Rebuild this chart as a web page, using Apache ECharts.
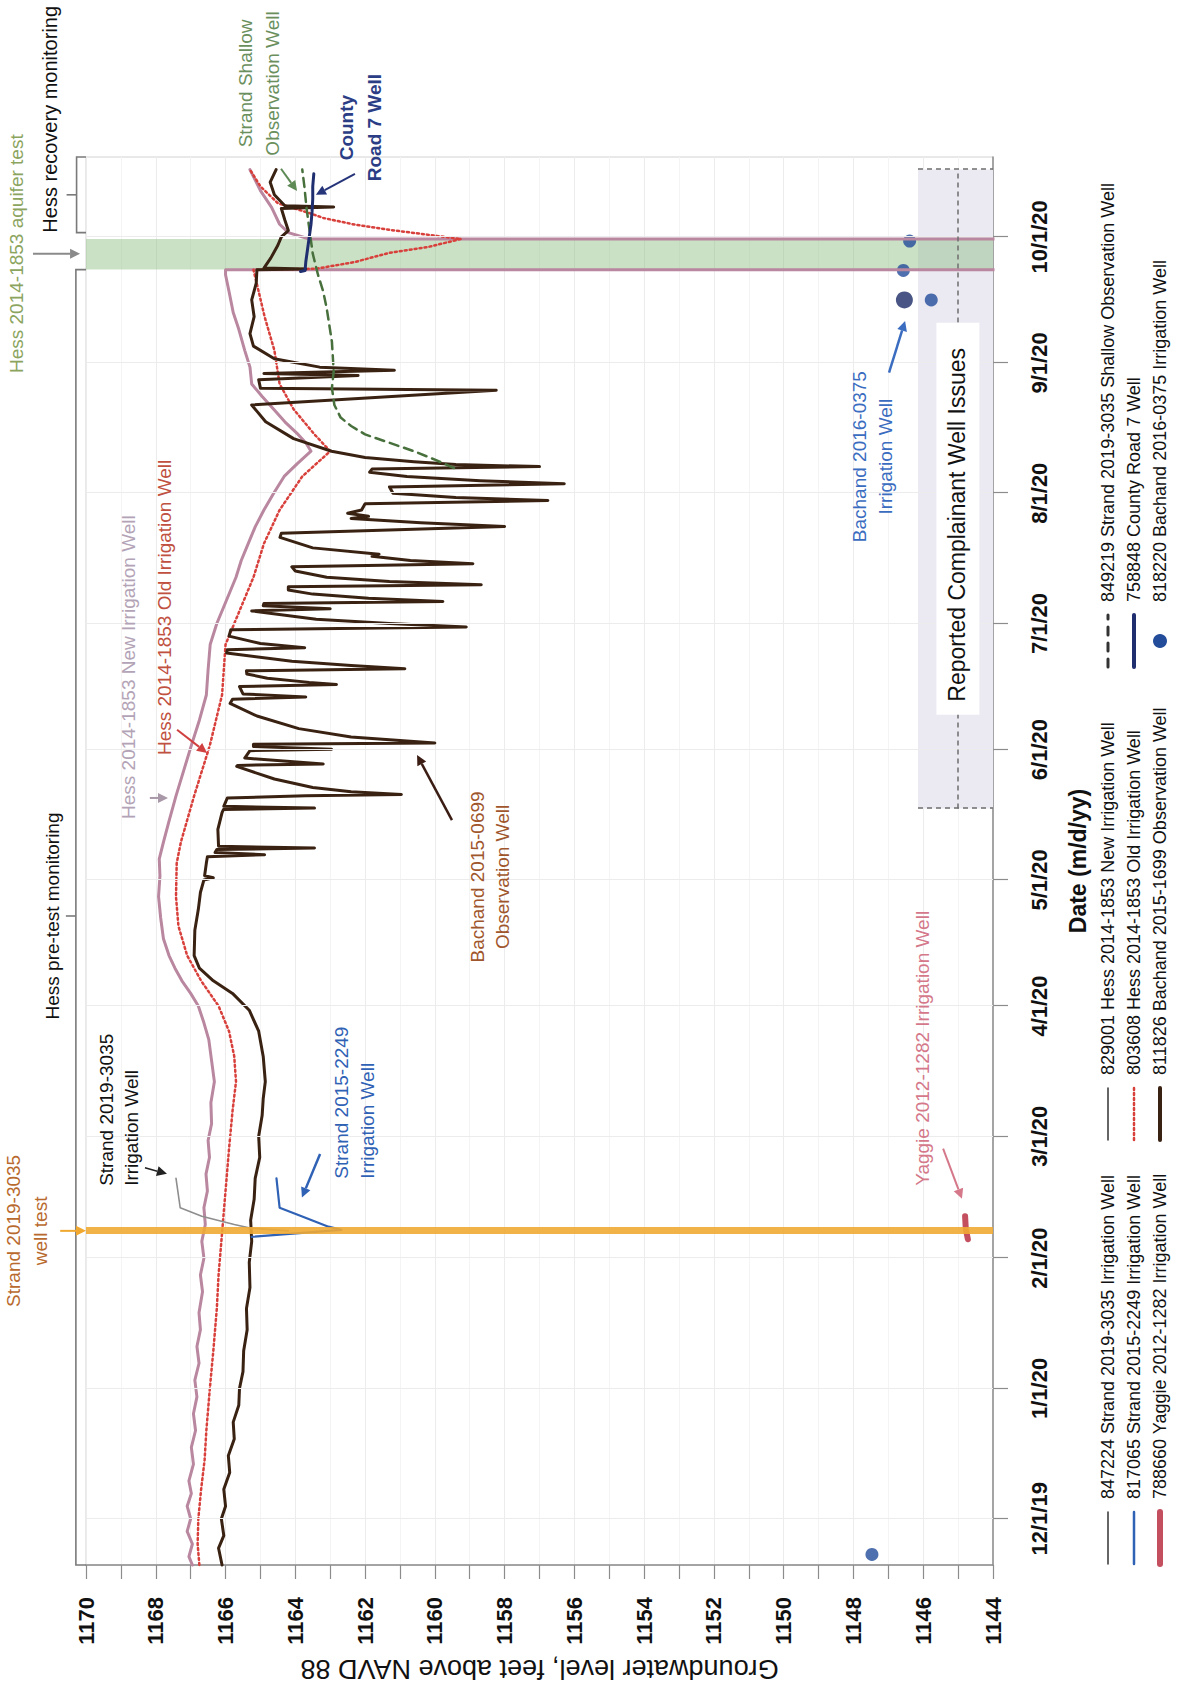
<!DOCTYPE html>
<html>
<head>
<meta charset="utf-8">
<title>Groundwater levels, Hess 2014-1853 aquifer test area</title>
<script src="https://cdn.jsdelivr.net/npm/echarts@6/dist/echarts.min.js"></script>
<style>
  html, body { margin: 0; padding: 0; width: 1178px; height: 1690px; overflow: hidden; background: #fff; }
  /* the chart is laid out landscape and turned a quarter turn counter-clockwise onto the portrait page */
  #chart { position: absolute; left: 0; top: 0; width: 1690px; height: 1178px;
           transform-origin: 0 0; transform: translateY(1690px) rotate(-90deg); }
</style>
</head>
<body>
<div id="chart"></div>
<script>
// ---------------- data (date, groundwater level in ft NAVD 88) ----------------
const monthTicks = ['2019-12-01', '2020-01-01', '2020-02-01', '2020-03-01', '2020-04-01', '2020-05-01',
  '2020-06-01', '2020-07-01', '2020-08-01', '2020-09-01', '2020-10-01'];

const strand3035Irrigation = [
  ['2020-02-07 12:00', 1164.2], ['2020-02-08 04:00', 1165.3], ['2020-02-09', 1165.75],
  ['2020-02-11', 1166.68], ['2020-02-13', 1167.3], ['2020-02-20', 1167.42]
];

const strand2249Irrigation = [
  ['2020-02-06 02:00', 1165.25], ['2020-02-07 18:00', 1162.68], ['2020-02-08 12:00', 1163.05],
  ['2020-02-11', 1163.82], ['2020-02-13', 1164.45], ['2020-02-20', 1164.54]
];

const yaggieIrrigation = [
  ['2020-02-05 12:00', 1144.72], ['2020-02-08', 1144.78], ['2020-02-11', 1144.8]
];

const hessNewIrrigation = [
  ['2019-11-20', 1166.95], ['2019-11-22', 1167.05], ['2019-11-25', 1166.95], ['2019-11-28', 1167.1],
  ['2019-12-01', 1167.0], ['2019-12-04', 1167.1], ['2019-12-07', 1166.98], ['2019-12-10', 1167.05],
  ['2019-12-14', 1166.92], ['2019-12-18', 1166.98], ['2019-12-22', 1166.86], ['2019-12-26', 1166.92],
  ['2019-12-30', 1166.82], ['2020-01-03', 1166.88], ['2020-01-07', 1166.76], ['2020-01-11', 1166.82],
  ['2020-01-15', 1166.72], ['2020-01-19', 1166.76], ['2020-01-24', 1166.66], ['2020-01-28', 1166.72],
  ['2020-02-01', 1166.62], ['2020-02-05', 1166.68], ['2020-02-09', 1166.58], ['2020-02-13', 1166.62],
  ['2020-02-17', 1166.52], ['2020-02-21', 1166.56], ['2020-02-25', 1166.46], ['2020-02-29', 1166.5],
  ['2020-03-04', 1166.4], ['2020-03-09', 1166.42], ['2020-03-14', 1166.32], ['2020-03-19', 1166.4],
  ['2020-03-24', 1166.48], ['2020-03-28', 1166.62], ['2020-04-01', 1166.78], ['2020-04-04', 1167.0],
  ['2020-04-07', 1167.25], ['2020-04-10', 1167.45], ['2020-04-13', 1167.62], ['2020-04-17', 1167.78],
  ['2020-04-22', 1167.86], ['2020-04-27', 1167.92], ['2020-05-02', 1167.88], ['2020-05-06', 1167.9],
  ['2020-05-10', 1167.78], ['2020-05-15', 1167.62], ['2020-05-21', 1167.42], ['2020-05-27', 1167.2],
  ['2020-06-02', 1166.98], ['2020-06-08', 1166.75], ['2020-06-14', 1166.55], ['2020-06-20', 1166.5],
  ['2020-06-26', 1166.44], ['2020-07-01', 1166.25], ['2020-07-06', 1166.0], ['2020-07-12', 1165.7],
  ['2020-07-16', 1165.55], ['2020-07-20', 1165.35], ['2020-07-24', 1165.15], ['2020-07-28', 1164.9],
  ['2020-08-01', 1164.62], ['2020-08-05', 1164.32], ['2020-08-08', 1163.95], ['2020-08-11', 1163.55],
  ['2020-08-13', 1163.7], ['2020-08-15', 1163.92], ['2020-08-18', 1164.3], ['2020-08-21', 1164.62],
  ['2020-08-24', 1164.95], ['2020-08-27', 1165.25], ['2020-08-31', 1165.3], ['2020-09-04', 1165.45],
  ['2020-09-09', 1165.62], ['2020-09-13', 1165.78], ['2020-09-18', 1165.9], ['2020-09-22', 1166.0],
  ['2020-09-23 04:00', 1166.0], ['2020-09-23 05:00', 1140.0], ['2020-09-30 11:00', 1140.0],
  ['2020-09-30 12:00', 1163.6], ['2020-10-02', 1164.2], ['2020-10-04', 1164.45], ['2020-10-08', 1164.68],
  ['2020-10-12', 1165.0], ['2020-10-17', 1165.3]
];

const hessOldIrrigation = [
  ['2019-11-20', 1166.75], ['2019-11-25', 1166.8], ['2019-12-01', 1166.78], ['2019-12-08', 1166.7],
  ['2019-12-15', 1166.6], ['2019-12-22', 1166.55], ['2020-01-01', 1166.45], ['2020-01-10', 1166.35],
  ['2020-01-20', 1166.25], ['2020-01-28', 1166.2], ['2020-02-07', 1166.1], ['2020-02-17', 1166.0],
  ['2020-02-27', 1165.9], ['2020-03-07', 1165.8], ['2020-03-14', 1165.7], ['2020-03-20', 1165.75],
  ['2020-03-26', 1165.9], ['2020-04-01', 1166.2], ['2020-04-07', 1166.7], ['2020-04-13', 1167.1],
  ['2020-04-20', 1167.35], ['2020-04-27', 1167.42], ['2020-05-05', 1167.4], ['2020-05-10', 1167.28],
  ['2020-05-21', 1166.9], ['2020-06-02', 1166.45], ['2020-06-14', 1166.1], ['2020-06-20', 1166.05],
  ['2020-06-26', 1166.0], ['2020-07-04', 1165.6], ['2020-07-12', 1165.2], ['2020-07-20', 1164.9],
  ['2020-07-28', 1164.45], ['2020-08-05', 1163.8], ['2020-08-11', 1163.0], ['2020-08-15', 1163.45],
  ['2020-08-21', 1164.05], ['2020-08-27', 1164.45], ['2020-09-04', 1164.6], ['2020-09-12', 1164.88],
  ['2020-09-18', 1165.05], ['2020-09-23 04:00', 1165.2], ['2020-09-23 10:00', 1163.4],
  ['2020-09-25', 1162.3], ['2020-09-27 05:00', 1161.3], ['2020-09-28 14:00', 1160.2],
  ['2020-09-30 12:00', 1159.25], ['2020-10-01 12:00', 1160.2], ['2020-10-02 16:00', 1161.3],
  ['2020-10-03 22:00', 1162.3], ['2020-10-05 12:00', 1163.2], ['2020-10-06 16:00', 1163.6],
  ['2020-10-09', 1164.5], ['2020-10-13', 1165.0], ['2020-10-17', 1165.3]
];

const bachand1699Observation = [
  ['2019-11-20', 1166.1], ['2019-11-24', 1166.2], ['2019-11-27', 1166.05], ['2019-12-01', 1166.12],
  ['2019-12-04', 1166.0], ['2019-12-08', 1166.05], ['2019-12-12', 1165.88], ['2019-12-16', 1165.92],
  ['2019-12-20', 1165.75], ['2019-12-24', 1165.78], ['2019-12-28', 1165.62], ['2020-01-01', 1165.6],
  ['2020-01-05', 1165.5], ['2020-01-10', 1165.48], ['2020-01-15', 1165.38], ['2020-01-20', 1165.4],
  ['2020-01-25', 1165.3], ['2020-01-31', 1165.32], ['2020-02-05', 1165.25], ['2020-02-10', 1165.28],
  ['2020-02-15', 1165.18], ['2020-02-20', 1165.15], ['2020-02-25', 1165.02], ['2020-03-01', 1165.05],
  ['2020-03-06', 1164.95], ['2020-03-10', 1164.92], ['2020-03-14', 1164.86], ['2020-03-20', 1164.92],
  ['2020-03-26', 1165.05], ['2020-03-31', 1165.32], ['2020-04-04', 1165.8], ['2020-04-07', 1166.35],
  ['2020-04-10', 1166.75], ['2020-04-13', 1166.9], ['2020-04-19', 1166.88], ['2020-04-24', 1166.78],
  ['2020-04-28', 1166.72], ['2020-05-01', 1166.62], ['2020-05-01 12:00', 1166.35], ['2020-05-02', 1166.6],
  ['2020-05-05', 1166.55], ['2020-05-06 12:00', 1166.52], ['2020-05-07', 1164.88], ['2020-05-07 12:00', 1166.3],
  ['2020-05-08 06:00', 1166.25], ['2020-05-08 14:00', 1163.45], ['2020-05-09', 1166.2], ['2020-05-13', 1166.22],
  ['2020-05-17', 1166.1], ['2020-05-17 18:00', 1166.06], ['2020-05-18 02:00', 1163.45], ['2020-05-18 12:00', 1166.05],
  ['2020-05-20 12:00', 1165.95], ['2020-05-21', 1163.7], ['2020-05-21 08:00', 1160.96], ['2020-05-22', 1162.4],
  ['2020-05-23', 1163.5], ['2020-05-25', 1164.6], ['2020-05-28', 1165.68], ['2020-05-28 06:00', 1165.65],
  ['2020-05-28 14:00', 1163.2], ['2020-05-30', 1165.45], ['2020-05-31 18:00', 1165.3], ['2020-06-01 02:00', 1162.96],
  ['2020-06-01 18:00', 1165.2], ['2020-06-02 06:00', 1165.2], ['2020-06-02 14:00', 1160.0], ['2020-06-04', 1162.4],
  ['2020-06-06', 1163.9], ['2020-06-09', 1165.1], ['2020-06-12', 1165.87], ['2020-06-13', 1165.8],
  ['2020-06-13 12:00', 1163.7], ['2020-06-14 06:00', 1165.5], ['2020-06-16', 1165.6], ['2020-06-16 12:00', 1162.82],
  ['2020-06-17', 1163.6], ['2020-06-18', 1164.8], ['2020-06-19', 1165.39], ['2020-06-19 18:00', 1165.4],
  ['2020-06-20 06:00', 1160.86], ['2020-06-21', 1162.4], ['2020-06-22', 1164.1], ['2020-06-24', 1165.97],
  ['2020-06-24 18:00', 1165.95], ['2020-06-25 06:00', 1163.73], ['2020-06-26 06:00', 1165.0], ['2020-06-28', 1165.9],
  ['2020-06-29 12:00', 1165.85], ['2020-06-30 04:00', 1159.1], ['2020-07-01', 1161.3], ['2020-07-02', 1163.4],
  ['2020-07-04', 1165.25], ['2020-07-04 12:00', 1163.0], ['2020-07-05 06:00', 1164.92], ['2020-07-05 18:00', 1164.9],
  ['2020-07-06 06:00', 1159.77], ['2020-07-07', 1161.9], ['2020-07-08', 1163.5], ['2020-07-09', 1164.2],
  ['2020-07-09 18:00', 1164.2], ['2020-07-10 06:00', 1158.67], ['2020-07-11', 1161.3], ['2020-07-12', 1163.1],
  ['2020-07-13 12:00', 1164.0], ['2020-07-14 12:00', 1164.1], ['2020-07-15 06:00', 1158.91], ['2020-07-16', 1160.7],
  ['2020-07-17', 1161.8], ['2020-07-17 12:00', 1161.6], ['2020-07-19', 1163.5], ['2020-07-21 12:00', 1164.44],
  ['2020-07-22 12:00', 1164.4], ['2020-07-24 02:00', 1158.0], ['2020-07-25', 1160.4], ['2020-07-26', 1162.4],
  ['2020-07-26 12:00', 1161.9], ['2020-07-27 06:00', 1162.5], ['2020-07-28', 1162.1], ['2020-07-29 12:00', 1162.0],
  ['2020-07-30 06:00', 1156.76], ['2020-07-31', 1159.4], ['2020-08-01', 1161.2], ['2020-08-02 12:00', 1161.3],
  ['2020-08-03 06:00', 1156.29], ['2020-08-04', 1158.7], ['2020-08-05', 1160.8], ['2020-08-06', 1161.87],
  ['2020-08-06 18:00', 1161.8], ['2020-08-07 08:00', 1157.0], ['2020-08-07 20:00', 1159.4], ['2020-08-08 12:00', 1160.6],
  ['2020-08-09 12:00', 1162.0], ['2020-08-11', 1162.96], ['2020-08-14', 1164.05], ['2020-08-18', 1164.85],
  ['2020-08-22', 1165.25], ['2020-08-25 12:00', 1158.24], ['2020-08-26', 1165.0], ['2020-08-28', 1165.05],
  ['2020-08-29', 1162.2], ['2020-08-29 12:00', 1164.9], ['2020-08-30 06:00', 1161.16], ['2020-08-31', 1163.3],
  ['2020-09-02', 1164.6], ['2020-09-05', 1165.2], ['2020-09-08', 1165.3], ['2020-09-12', 1165.18],
  ['2020-09-16', 1165.25], ['2020-09-20', 1165.12], ['2020-09-23 04:00', 1165.1], ['2020-09-23 08:00', 1163.7],
  ['2020-09-23 14:00', 1164.9], ['2020-09-26', 1164.7], ['2020-09-29', 1164.5], ['2020-10-01', 1164.4],
  ['2020-10-02 12:00', 1164.2], ['2020-10-05', 1164.3], ['2020-10-07 18:00', 1164.4], ['2020-10-08 02:00', 1162.9],
  ['2020-10-08 10:00', 1164.3], ['2020-10-11', 1164.6], ['2020-10-14', 1164.72], ['2020-10-17', 1164.55]
];

const strandShallowObservation = [
  ['2020-08-07', 1159.45], ['2020-08-09', 1160.0], ['2020-08-11', 1160.6], ['2020-08-13', 1161.3],
  ['2020-08-15', 1162.0], ['2020-08-17', 1162.4], ['2020-08-19', 1162.7], ['2020-08-22', 1162.88],
  ['2020-08-26', 1162.95], ['2020-08-30', 1162.9], ['2020-09-06', 1162.95], ['2020-09-14', 1163.1],
  ['2020-09-18', 1163.2], ['2020-09-22', 1163.35], ['2020-09-27', 1163.5], ['2020-10-03', 1163.6],
  ['2020-10-08', 1163.68], ['2020-10-13', 1163.74], ['2020-10-17', 1163.8]
];

const countyRoad7 = [
  ['2020-09-22 18:00', 1163.85], ['2020-09-23', 1163.72], ['2020-09-25', 1163.7], ['2020-09-28', 1163.65],
  ['2020-10-01', 1163.6], ['2020-10-04', 1163.55], ['2020-10-07', 1163.52], ['2020-10-10', 1163.5],
  ['2020-10-13', 1163.5], ['2020-10-16', 1163.47]
];

const bachand0375Irrigation = [
  ['2019-11-22 12:00', 1147.47], ['2020-09-16', 1146.54], ['2020-09-16', 1145.77],
  ['2020-09-23', 1146.57], ['2020-09-30', 1146.39]
];

// ---------------- periods marked on the chart ----------------
const strandTestDate = '2020-02-07 12:00';
const hessTestStart = '2020-09-23 05:00';
const hessTestEnd = '2020-09-30 12:00';
const complaintStart = '2020-05-18';
const complaintEnd = '2020-10-17';
const complaintTop = 1146.15;
const complaintMid = 1145.02;

// ---------------- helpers ----------------
const FONT = '"Liberation Sans", Arial, Helvetica, sans-serif';
function ts(s) {
  const m = s.match(/^(\d{4})-(\d{2})-(\d{2})(?: (\d{2}):(\d{2}))?$/);
  return new Date(+m[1], +m[2] - 1, +m[3], m[4] ? +m[4] : 0, m[5] ? +m[5] : 0).getTime();
}
function mdyy(v) {
  const d = new Date(v);
  return (d.getMonth() + 1) + '/' + d.getDate() + '/' + String(d.getFullYear()).slice(2);
}
const asTime = rows => rows.map(r => [ts(r[0]), r[1]]);
const monthValues = monthTicks.map(ts);

function lineSeries(name, data, color, width, type, extra) {
  return Object.assign({
    name: name, type: 'line', data: asTime(data), showSymbol: false, symbol: 'none', silent: true,
    lineStyle: { color: color, width: width, type: type || 'solid', cap: 'round', join: 'round' },
    itemStyle: { color: color }, emphasis: { disabled: true }, animation: false
  }, extra || {});
}

const names = {
  s3035: '847224 Strand 2019-3035 Irrigation Well',
  s2249: '817065 Strand 2015-2249 Irrigation Well',
  yag: '788660 Yaggie 2012-1282 Irrigation Well',
  hNew: '829001 Hess 2014-1853 New Irrigation Well',
  hOld: '803608 Hess 2014-1853 Old Irrigation Well',
  b1699: '811826 Bachand 2015-1699 Observation Well',
  sShal: '849219 Strand 2019-3035 Shallow Observation Well',
  cr7: '758848 County Road 7 Well',
  b0375: '818220 Bachand 2016-0375 Irrigation Well'
};

const chart = echarts.init(document.getElementById('chart'), null, { renderer: 'svg', width: 1690, height: 1178 });

const monthGrid = monthValues.map(v => ({ xAxis: v, lineStyle: { color: '#ececec', width: 1, type: 'solid' } }));
const complaintLines = [
  [{ coord: [ts(complaintStart), complaintMid] }, { coord: [ts(complaintEnd), complaintMid] }],
  [{ coord: [ts(complaintStart), complaintTop] }, { coord: [ts(complaintStart), 1144] }],
  [{ coord: [ts(complaintEnd), complaintTop] }, { coord: [ts(complaintEnd), 1144] }]
].map(pair => { pair[0].lineStyle = { color: '#6e6e6e', width: 1.5, type: [5, 4] }; return pair; });

// legend: three columns of three rows; line entries show only their line
const lineKey = (name, lineStyle) => ({ name: name, itemStyle: { opacity: 0 }, lineStyle: lineStyle || {} });
const legendCols = [
  [lineKey(names.s3035, { color: '#333', width: 1.5 }),
   lineKey(names.s2249, { width: 2.5 }),
   lineKey(names.yag, { width: 6 })],
  [lineKey(names.hNew, { color: '#333', width: 1.5 }),
   lineKey(names.hOld, { width: 2.5 }),
   lineKey(names.b1699, { width: 4 })],
  [lineKey(names.sShal, { color: '#333', width: 3, type: [8, 8] }),
   lineKey(names.cr7, { width: 4 }),
   { name: names.b0375, itemStyle: { color: '#234c9a', opacity: 1 } }]
];
const legendLeft = [118, 543, 1016];

const option = {
  animation: false,
  backgroundColor: '#fff',
  textStyle: { fontFamily: FONT },
  grid: { left: 125, top: 86, width: 1408, height: 907, containLabel: false, outerBoundsMode: 'none',
          show: true, borderColor: '#d2d2d2', borderWidth: 1, backgroundColor: 'transparent' },
  legend: legendCols.map((col, i) => ({
    orient: 'vertical', left: legendLeft[i], top: 1094, itemWidth: 52, itemHeight: 14, itemGap: 8,
    selectedMode: false,
    textStyle: { fontFamily: FONT, fontSize: 18, color: '#111', padding: [0, 0, 0, 8] },
    data: col
  })),
  xAxis: {
    type: 'value', min: ts('2019-11-20'), max: ts('2020-10-20'),
    axisLine: { show: true, lineStyle: { color: '#8c8c8c', width: 1.5 } },
    axisTick: { show: true, inside: false, length: 15, customValues: monthValues, lineStyle: { color: '#8c8c8c', width: 1.2 } },
    axisLabel: { customValues: monthValues, formatter: mdyy, margin: 35, fontSize: 22, fontWeight: 'bold',
                 color: '#111', fontFamily: FONT, hideOverlap: false },
    splitLine: { show: false },
    name: 'Date (m/d/yy)', nameLocation: 'middle', nameGap: 73,
    nameTextStyle: { fontSize: 23, fontWeight: 'bold', color: '#111', fontFamily: FONT }
  },
  yAxis: {
    type: 'value', min: 1144, max: 1170, interval: 2,
    axisLine: { show: true, lineStyle: { color: '#8c8c8c', width: 1.5 } },
    axisTick: { show: true, inside: false, length: 14, lineStyle: { color: '#8c8c8c', width: 1.2 } },
    minorTick: { show: true, splitNumber: 2, length: 14, lineStyle: { color: '#8c8c8c', width: 1.2 } },
    axisLabel: { margin: 32, fontSize: 22, fontWeight: 'bold', color: '#111', fontFamily: FONT,
                 formatter: v => String(v) },
    splitLine: { show: true, lineStyle: { color: '#ececec', width: 1 } },
    minorSplitLine: { show: true, lineStyle: { color: '#f4f4f4', width: 1 } },
    name: 'Groundwater level, feet above NAVD 88', nameLocation: 'middle', nameRotate: 90, nameGap: 84,
    nameTextStyle: { fontSize: 27, color: '#111', fontFamily: FONT }
  },
  series: [
    lineSeries(names.hNew, hessNewIrrigation, '#b9879f', 3, 'solid', {
      markArea: {
        silent: true,
        data: [
          [{ xAxis: ts(complaintStart), yAxis: complaintTop, itemStyle: { color: '#ebeaf2' } },
           { xAxis: ts(complaintEnd), yAxis: 1144 }],
          [{ xAxis: ts(hessTestStart), itemStyle: { color: 'rgba(140,188,128,0.45)' } },
           { xAxis: ts(hessTestEnd) }]
        ]
      },
      markLine: { silent: true, symbol: ['none', 'none'], label: { show: false }, animation: false,
                  data: monthGrid.concat(complaintLines) }
    }),
    lineSeries(names.hOld, hessOldIrrigation, '#d8403c', 2.5, [2, 3]),
    lineSeries(names.b1699, bachand1699Observation, '#3a2212', 3),
    lineSeries(names.sShal, strandShallowObservation, '#47703c', 2.5, [9, 6]),
    lineSeries(names.cr7, countyRoad7, '#1f2e6e', 3),
    lineSeries(names.s3035, strand3035Irrigation, '#8e8e8e', 1.6, 'solid', {
      markLine: { silent: true, symbol: ['none', 'none'], label: { show: false }, animation: false,
                  data: [{ xAxis: ts(strandTestDate), lineStyle: { color: 'rgba(240,170,52,0.9)', width: 7, type: 'solid' } }] }
    }),
    lineSeries(names.s2249, strand2249Irrigation, '#2f61b5', 2.2),
    lineSeries(names.yag, yaggieIrrigation, '#c34f5f', 6),
    {
      name: names.b0375, type: 'scatter', data: asTime(bachand0375Irrigation), silent: true, animation: false,
      symbol: 'circle',
      symbolSize: (v, p) => (p.dataIndex === 1 ? 17 : 13),
      itemStyle: { color: p => (p.dataIndex === 1 ? '#1b2c66' : '#234c9a') },
      emphasis: { disabled: true }
    }
  ]
};

chart.setOption(option);

// ---------------- annotations placed through the axes ----------------
const toPx = (d, v) => chart.convertToPixel({ xAxisIndex: 0, yAxisIndex: 0 }, [ts(d), v]);

const notes = [
  { text: 'Strand 2019-3035\nwell test', at: [strandTestDate, 1171.7], align: 'center', color: '#b8692d', lh: 27 },
  { text: 'Hess 2014-1853 aquifer test', at: ['2020-09-27', 1172.0], align: 'center', color: '#8ba45e' },
  { text: 'Hess pre-test monitoring', at: ['2020-04-22 10:00', 1170.95], align: 'center', color: '#111' },
  { text: 'Hess recovery monitoring', at: ['2020-10-02', 1171.03], align: 'left', color: '#111', size: 20 },
  { text: 'Strand Shallow\nObservation Well', at: ['2020-11-06 12:00', 1165.03], align: 'center', color: '#6a8f5d', lh: 27 },
  { text: 'County\nRoad 7 Well', at: ['2020-10-27', 1162.12], align: 'center', color: '#2b3d85', weight: 'bold', lh: 28 },
  { text: 'Strand 2019-3035\nIrrigation Well', at: ['2020-02-18 05:00', 1169.04], align: 'left', color: '#111', lh: 25 },
  { text: 'Strand 2015-2249\nIrrigation Well', at: ['2020-02-19 22:00', 1162.29], align: 'left', color: '#2f61b5', lh: 26 },
  { text: 'Yaggie 2012-1282 Irrigation Well', at: ['2020-02-18 05:00', 1146.01], align: 'left', color: '#d4788a' },
  { text: 'Bachand 2015-0699\nObservation Well', at: ['2020-05-01 17:00', 1158.43], align: 'center', color: '#a0562c', lh: 25 },
  { text: 'Hess 2014-1853 Old Irrigation Well', at: ['2020-05-30 17:00', 1167.74], align: 'left', color: '#c0503f' },
  { text: 'Hess 2014-1853 New Irrigation Well', at: ['2020-05-15 12:00', 1168.77], align: 'left', color: '#b3a3b6' },
  { text: 'Bachand 2016-0375\nIrrigation Well', at: ['2020-08-09 17:00', 1147.44], align: 'center', color: '#3a6cc0', lh: 26 }
];

const arrows = [
  { from: [strandTestDate, 1170.74], to: [strandTestDate, 1170.0], color: '#f0a830', w: 2 },
  { from: ['2020-09-27', 1171.52], to: ['2020-09-27', 1170.17], color: '#8a8a8a', w: 2 },
  { from: ['2020-10-17 05:00', 1164.41], to: ['2020-10-11 22:00', 1163.95], color: '#5e8a55', w: 2 },
  { from: ['2020-10-16', 1162.29], to: ['2020-10-11', 1163.41], color: '#26357a', w: 2 },
  { from: ['2020-02-22 12:00', 1168.31], to: ['2020-02-21 02:00', 1167.68], color: '#222', w: 1.5 },
  { from: ['2020-02-25 19:00', 1163.29], to: ['2020-02-15 10:00', 1163.81], color: '#2f61b5', w: 2.5 },
  { from: ['2020-02-27 02:00', 1145.43], to: ['2020-02-15 03:00', 1144.89], color: '#d4788a', w: 2 },
  { from: ['2020-05-15 05:00', 1159.51], to: ['2020-05-30 17:00', 1160.51], color: '#3b1d14', w: 2.5 },
  { from: ['2020-06-05 17:00', 1167.39], to: ['2020-05-31 05:00', 1166.53], color: '#d04040', w: 2 },
  { from: ['2020-05-20 12:00', 1168.17], to: ['2020-05-20 12:00', 1167.65], color: '#a898a8', w: 2 },
  { from: ['2020-08-29 17:00', 1146.98], to: ['2020-09-11', 1146.52], color: '#3a6cc0', w: 2.5 }
];

// monitoring brackets drawn above the plot
const brackets = [
  { start: '2019-11-20', end: hessTestStart, mid: '2020-04-22 10:00', bar: 1170.29 },
  { start: '2020-10-02', end: '2020-10-20', mid: '2020-10-11', bar: 1170.27 }
];

const graphics = [];

brackets.forEach(b => {
  const a = toPx(b.start, b.bar), e = toPx(b.end, b.bar), m = toPx(b.mid, b.bar);
  const base = toPx(b.start, 1170)[1];
  const st = { stroke: '#7a7a7a', lineWidth: 1.6, fill: null };
  graphics.push({ type: 'polyline', z: 100, silent: true,
    shape: { points: [[a[0], base], [a[0], a[1]], [e[0], e[1]], [e[0], base]] }, style: st });
  graphics.push({ type: 'line', z: 100, silent: true,
    shape: { x1: m[0], y1: m[1], x2: m[0], y2: m[1] - 10 }, style: st });
});

// white panel and label for the complainant period
(function () {
  const c = toPx('2020-07-24 12:00', complaintMid);
  graphics.push({ type: 'rect', z: 100, silent: true, shape: { x: c[0] - 190, y: c[1] - 21, width: 392, height: 43 },
    style: { fill: '#ffffff' } });
  graphics.push({ type: 'text', z: 101, silent: true,
    style: { text: 'Reported Complainant Well Issues', x: c[0], y: c[1], fill: '#111', fontSize: 23,
             fontFamily: FONT, align: 'center', verticalAlign: 'middle' } });
})();

notes.forEach(n => {
  const p = toPx(n.at[0], n.at[1]);
  graphics.push({ type: 'text', z: 101, silent: true,
    style: { text: n.text, x: p[0], y: p[1], fill: n.color, fontSize: n.size || 19, fontWeight: n.weight || 'normal',
             fontFamily: FONT, align: n.align, verticalAlign: 'middle', lineHeight: n.lh || 24 } });
});

arrows.forEach(a => {
  const p1 = toPx(a.from[0], a.from[1]), p2 = toPx(a.to[0], a.to[1]);
  const dx = p2[0] - p1[0], dy = p2[1] - p1[1], len = Math.hypot(dx, dy) || 1;
  const ux = dx / len, uy = dy / len, head = 10, half = 5;
  const bx = p2[0] - ux * head, by = p2[1] - uy * head;
  graphics.push({ type: 'line', z: 102, silent: true,
    shape: { x1: p1[0], y1: p1[1], x2: bx, y2: by }, style: { stroke: a.color, lineWidth: a.w } });
  graphics.push({ type: 'polygon', z: 102, silent: true,
    shape: { points: [[p2[0], p2[1]], [bx - uy * half, by + ux * half], [bx + uy * half, by - ux * half]] },
    style: { fill: a.color } });
});

chart.setOption({ graphic: { elements: graphics } });
</script>
</body>
</html>
